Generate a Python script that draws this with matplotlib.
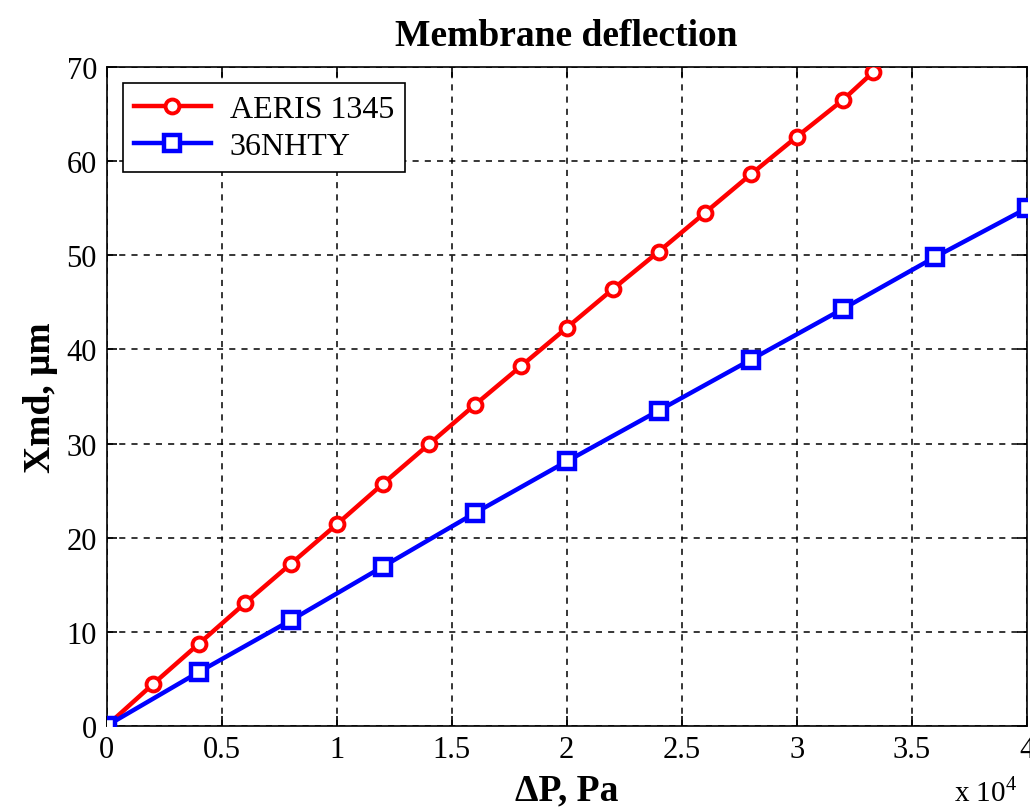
import numpy as np
import matplotlib
matplotlib.use("Agg")
import matplotlib.pyplot as plt

plt.rcParams["font.family"] = ["Liberation Serif", "DejaVu Serif"]
plt.rcParams["mathtext.fontset"] = "custom"
plt.rcParams["mathtext.rm"] = "Liberation Serif"

# ── Data (pressure in Pa, deflection in um) ──────────────────────────────────
p_aeris = [0, 2000, 4000, 6000, 8000, 10000, 12000, 14000, 16000, 18000,
           20000, 22000, 24000, 26000, 28000, 30000, 32000, 33333]
x_aeris = [0, 4.4, 8.7, 13.0, 17.2, 21.4, 25.7, 29.9, 34.1, 38.2,
           42.3, 46.4, 50.4, 54.5, 58.6, 62.6, 66.5, 69.5]

p_36n = [0, 4000, 8000, 12000, 16000, 20000, 24000, 28000, 32000, 36000, 40000]
x_36n = [0, 5.7, 11.2, 16.9, 22.6, 28.1, 33.5, 38.9, 44.3, 49.8, 55.0]

xticks = [0, 0.5, 1, 1.5, 2, 2.5, 3, 3.5, 4]
xticklabels = ["0", "0.5", "1", "1.5", "2", "2.5", "3", "3.5", "4"]
yticks = [0, 10, 20, 30, 40, 50, 60, 70]

# ── Figure ────────────────────────────────────────────────────────────────────
fig = plt.figure(figsize=(10.3, 8.12), dpi=100)
ax = fig.add_axes([0.1036, 0.105, 0.8932, 0.811])

ax.plot(np.array(p_aeris) / 1e4, x_aeris, color="#ff0000", linewidth=3.2,
        marker="o", markersize=10, markerfacecolor="white",
        markeredgewidth=2.8, label="AERIS 1345", zorder=3)
ax.plot(np.array(p_36n) / 1e4, x_36n, color="#0000ff", linewidth=3.2,
        marker="s", markersize=11.5, markerfacecolor="white",
        markeredgewidth=3.2, label="36NHTY", zorder=3)

ax.set_xlim(0, 4)
ax.set_ylim(0, 70)
ax.set_xticks(xticks)
ax.set_xticklabels(xticklabels)
ax.set_yticks(yticks)
ax.tick_params(axis="both", direction="in", length=7, width=1.2,
               labelsize=22, top=True, right=True, pad=7)
for s in ax.spines.values():
    s.set_linewidth(1.2)
ax.grid(True, color="black", linestyle=(0, (4, 4)), linewidth=1.1)
ax.set_axisbelow(True)

ax.set_title("Membrane deflection", fontsize=27, fontweight="bold", pad=16)
ax.set_xlabel("ΔP, Pa", fontsize=27, fontweight="bold", labelpad=6)
ax.set_ylabel("Xmd, μm", fontsize=27, fontweight="bold", labelpad=6)

fig.text(0.926, 0.006, r"x 10$^{4}$", fontsize=21, ha="left", va="bottom")

leg = ax.legend(loc="upper left", fontsize=23, frameon=True, fancybox=False,
                edgecolor="black", framealpha=1, borderaxespad=0.5,
                handlelength=2.4, handletextpad=0.6, labelspacing=0.25,
                borderpad=0.35)
leg.get_frame().set_linewidth(1.2)

fig.savefig("out.png", dpi=100)
